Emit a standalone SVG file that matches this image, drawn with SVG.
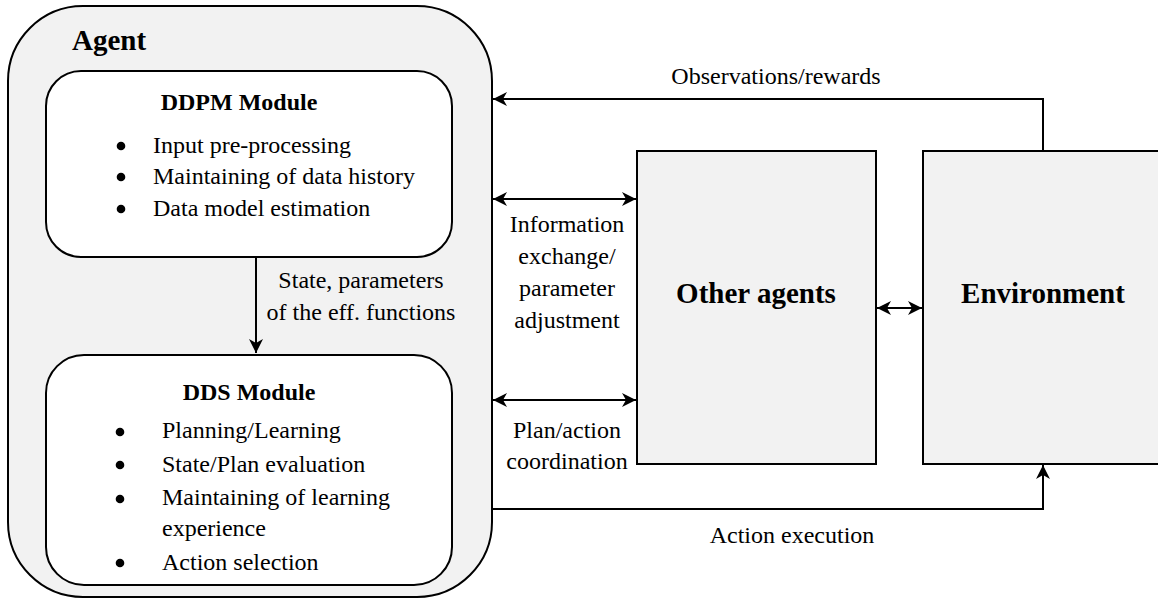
<svg xmlns="http://www.w3.org/2000/svg" width="1158" height="599" viewBox="0 0 1158 599">
<style>
text{font-family:'Liberation Serif','DejaVu Serif',serif;fill:#000}
.t{font-size:24px}
.b{font-size:24px;font-weight:bold}
.h{font-size:29px;font-weight:bold}
.box{stroke:#000;stroke-width:2}
.grey{fill:#f2f2f2}
.white{fill:#fff}
.ln{fill:none;stroke:#000;stroke-width:2}
.dot{fill:#000}
</style>
<defs>
<marker id="ah" viewBox="0 0 14 14" refX="14" refY="7" markerWidth="14" markerHeight="14" markerUnits="userSpaceOnUse" orient="auto-start-reverse">
<path d="M0,0 L14,7 L0,14 L4,7 Z" fill="#000"/>
</marker>
</defs>
<rect width="1158" height="599" fill="#fff"/>

<g id="agent">
<rect class="box grey" x="8" y="6" width="484" height="591" rx="75" ry="75"/>
<text class="h" font-family="Liberation Serif, serif" x="72" y="50">Agent</text>
</g>

<g id="ddpm">
<rect class="box white" x="46" y="71" width="406" height="186" rx="35" ry="35"/>
<text class="b" font-family="Liberation Serif, serif" x="239" y="110" text-anchor="middle">DDPM Module</text>
<circle class="dot" cx="121" cy="146" r="4.3"/>
<circle class="dot" cx="121" cy="177" r="4.3"/>
<circle class="dot" cx="121" cy="209" r="4.3"/>
<text class="t" font-family="Liberation Serif, serif" x="153" y="153">Input pre-processing</text>
<text class="t" font-family="Liberation Serif, serif" x="153" y="184">Maintaining of data history</text>
<text class="t" font-family="Liberation Serif, serif" x="153" y="216">Data model estimation</text>
</g>

<g id="dds">
<rect class="box white" x="46" y="355" width="406" height="230" rx="38" ry="38"/>
<text class="b" font-family="Liberation Serif, serif" x="249" y="400" text-anchor="middle">DDS Module</text>
<circle class="dot" cx="120" cy="432" r="4.3"/>
<circle class="dot" cx="120" cy="465" r="4.3"/>
<circle class="dot" cx="120" cy="499" r="4.3"/>
<circle class="dot" cx="120" cy="563" r="4.3"/>
<text class="t" font-family="Liberation Serif, serif" x="162" y="438">Planning/Learning</text>
<text class="t" font-family="Liberation Serif, serif" x="162" y="472">State/Plan evaluation</text>
<text class="t" font-family="Liberation Serif, serif" x="162" y="505">Maintaining of learning</text>
<text class="t" font-family="Liberation Serif, serif" x="162" y="536">experience</text>
<text class="t" font-family="Liberation Serif, serif" x="162" y="570">Action selection</text>
</g>

<g id="other-agents">
<rect class="box grey" x="637" y="151" width="239" height="313"/>
<text class="h" font-family="Liberation Serif, serif" x="756" y="303" text-anchor="middle">Other agents</text>
</g>

<g id="environment">
<rect class="box grey" x="923" y="151" width="240" height="313"/>
<text class="h" font-family="Liberation Serif, serif" x="1043" y="303" text-anchor="middle">Environment</text>
</g>

<g id="connectors">
<line class="ln" x1="256" y1="257" x2="256" y2="353" marker-end="url(#ah)"/>
<polyline class="ln" points="1043,151 1043,99 493,99" marker-end="url(#ah)"/>
<line class="ln" x1="493" y1="199" x2="636" y2="199" marker-start="url(#ah)" marker-end="url(#ah)"/>
<line class="ln" x1="493" y1="400" x2="636" y2="400" marker-start="url(#ah)" marker-end="url(#ah)"/>
<line class="ln" x1="877" y1="308" x2="922" y2="308" marker-start="url(#ah)" marker-end="url(#ah)"/>
<polyline class="ln" points="492,509 1043,509 1043,465" marker-end="url(#ah)"/>
<text class="t" font-family="Liberation Serif, serif" x="361" y="288" text-anchor="middle">State, parameters</text>
<text class="t" font-family="Liberation Serif, serif" x="361" y="320" text-anchor="middle">of the eff. functions</text>
<text class="t" font-family="Liberation Serif, serif" x="776" y="84" text-anchor="middle">Observations/rewards</text>
<text class="t" font-family="Liberation Serif, serif" x="567" y="232" text-anchor="middle">Information</text>
<text class="t" font-family="Liberation Serif, serif" x="567" y="264" text-anchor="middle">exchange/</text>
<text class="t" font-family="Liberation Serif, serif" x="567" y="296" text-anchor="middle">parameter</text>
<text class="t" font-family="Liberation Serif, serif" x="567" y="328" text-anchor="middle">adjustment</text>
<text class="t" font-family="Liberation Serif, serif" x="567" y="438" text-anchor="middle">Plan/action</text>
<text class="t" font-family="Liberation Serif, serif" x="567" y="469" text-anchor="middle">coordination</text>
<text class="t" font-family="Liberation Serif, serif" x="792" y="543" text-anchor="middle">Action execution</text>
</g>
</svg>
